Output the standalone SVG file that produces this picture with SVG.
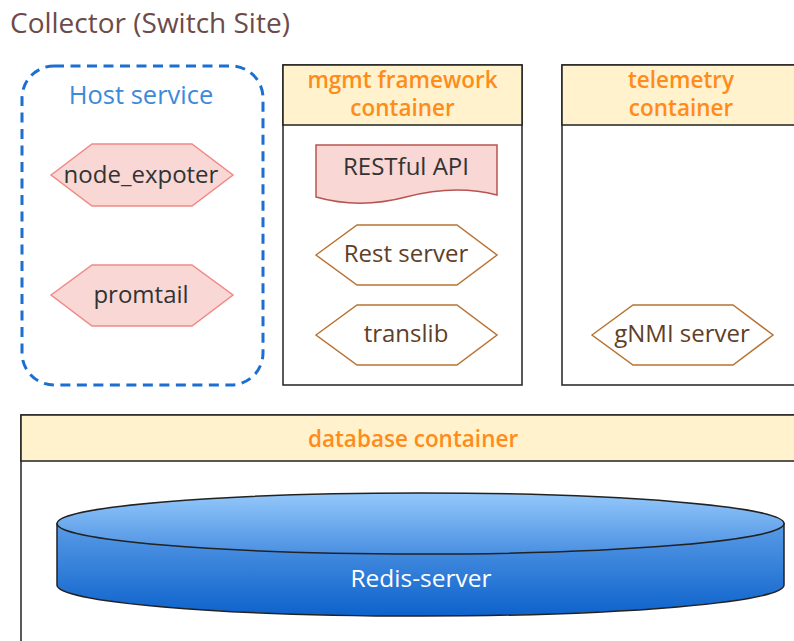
<svg xmlns="http://www.w3.org/2000/svg" width="794" height="641" viewBox="0 0 794 641">
  <style>
    text { font-family: "Open Sans", "Noto Sans", "DejaVu Sans", sans-serif; }
    .title { font-size: 28px; fill: #6e4a4a; }
    .group { fill: none; stroke: #1c6fd1; stroke-width: 3; stroke-dasharray: 10 6.5; }
    .grouplabel { font-size: 25.5px; fill: #3d8ad9; text-anchor: middle; }
    .box { fill: #ffffff; stroke: #222222; stroke-width: 1.5; }
    .head { fill: #fff2cc; stroke: #222222; stroke-width: 1.5; }
    .headtext { font-size: 22.5px; fill: #ff8c1a; text-anchor: middle; font-weight: 600; }
    .hexpink { fill: #f8d7d4; stroke: #f08a86; stroke-width: 1.5; }
    .hexbrown { fill: #ffffff; stroke: #b87333; stroke-width: 1.5; }
    .doc { fill: #f8d7d4; stroke: #b85450; stroke-width: 1.5; }
    .label { font-size: 24px; fill: #333333; text-anchor: middle; }
    .labelbrown { font-size: 24px; fill: #5e4028; text-anchor: middle; }
    .cyl { stroke: #222222; stroke-width: 1.5; }
  </style>
  <defs>
    <linearGradient id="cylBody" x1="0" y1="0" x2="0" y2="1">
      <stop offset="0" stop-color="#5a9ce6"/>
      <stop offset="1" stop-color="#0d62cc"/>
    </linearGradient>
    <linearGradient id="cylTop" x1="0" y1="0" x2="0" y2="1">
      <stop offset="0" stop-color="#94c8fa"/>
      <stop offset="1" stop-color="#4a8fe2"/>
    </linearGradient>
  </defs>

  <text class="title" x="10" y="33">Collector (Switch Site)</text>

  <!-- Host service group -->
  <g id="host-service">
    <rect class="group" x="22" y="66" width="241" height="319" rx="32" ry="32"/>
    <text class="grouplabel" x="141" y="104">Host service</text>
  </g>
  <g id="node-expoter">
    <polygon class="hexpink" points="51,175 92,144 192,144 233,175 192,206 92,206"/>
    <text class="label" x="141" y="183">node_expoter</text>
  </g>
  <g id="promtail">
    <polygon class="hexpink" points="51,295 92,265 192,265 233,295 192,326 92,326"/>
    <text class="label" x="141" y="303">promtail</text>
  </g>

  <!-- mgmt framework container -->
  <g id="mgmt-framework-container">
    <rect class="box" x="283" y="65" width="239" height="320"/>
    <rect class="head" x="283" y="65" width="239" height="60"/>
    <text class="headtext" x="402.5" y="88">mgmt framework</text>
    <text class="headtext" x="402.5" y="116">container</text>
  </g>
  <g id="restful-api">
    <path class="doc" d="M316,145 H497 V195 C470,188 440,188 406,197 C372,206 344,205 316,197 Z"/>
    <text class="label" x="406" y="175" font-size="25">RESTful API</text>
  </g>
  <g id="rest-server">
    <polygon class="hexbrown" points="316,255 357,225 457,225 497,255 457,285 357,285"/>
    <text class="labelbrown" x="406" y="262">Rest server</text>
  </g>
  <g id="translib">
    <polygon class="hexbrown" points="316,335 357,305 457,305 497,335 457,365 357,365"/>
    <text class="labelbrown" x="406" y="342">translib</text>
  </g>

  <!-- telemetry container -->
  <g id="telemetry-container">
    <rect class="box" x="562" y="65" width="240" height="320"/>
    <rect class="head" x="562" y="65" width="240" height="60"/>
    <text class="headtext" x="681" y="88">telemetry</text>
    <text class="headtext" x="681" y="116">container</text>
  </g>
  <g id="gnmi-server">
    <polygon class="hexbrown" points="592,335 633,305 733,305 773,335 733,365 633,365"/>
    <text class="labelbrown" x="682" y="342">gNMI server</text>
  </g>

  <!-- database container -->
  <g id="database-container">
    <rect class="box" x="21" y="415" width="790" height="240"/>
    <rect class="head" x="21" y="415" width="790" height="46"/>
    <text class="headtext" x="413" y="447">database container</text>
  </g>
  <g id="redis-server">
    <path class="cyl" fill="url(#cylBody)" d="M57,523.5 V585 A363.5,31 0 0 0 784,585 V523.5 Z"/>
    <ellipse class="cyl" fill="url(#cylTop)" cx="420.5" cy="523.5" rx="363.5" ry="30.5"/>
    <text x="421" y="587" font-size="24.5" fill="#ffffff" text-anchor="middle">Redis-server</text>
  </g>

  <!-- no connectors are drawn between these nodes -->
  <g id="connectors"/>
</svg>
